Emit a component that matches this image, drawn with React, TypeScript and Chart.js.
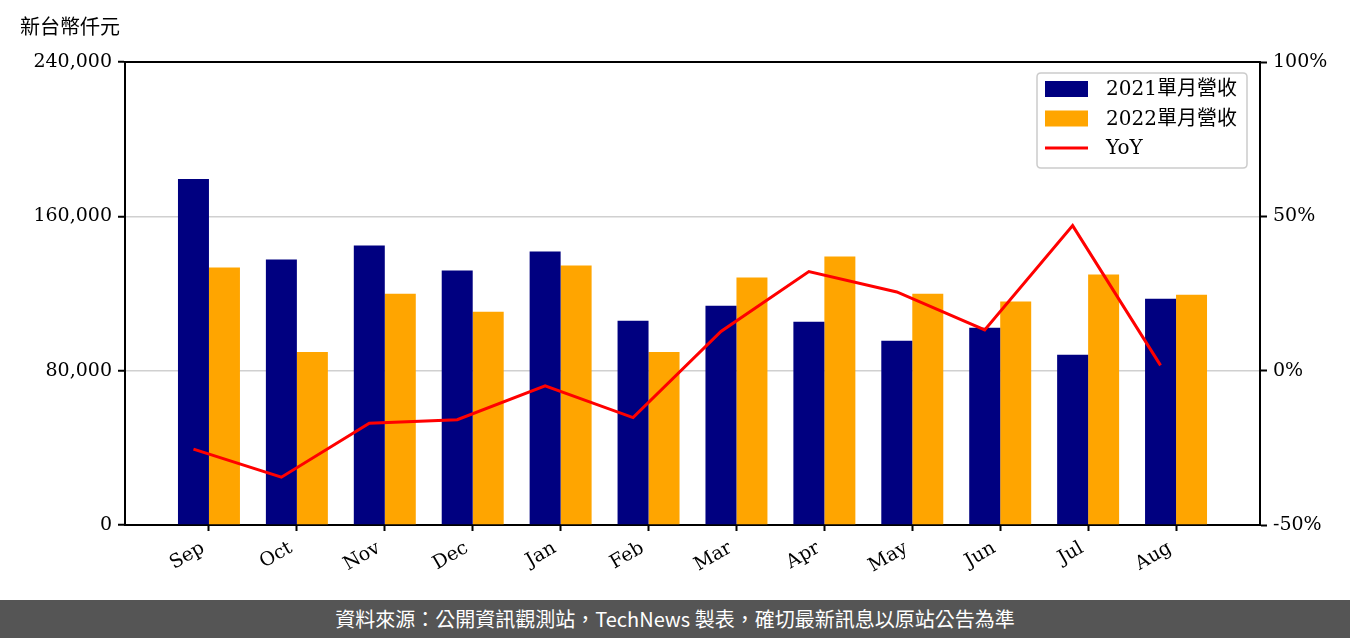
import { useEffect, useRef } from "react";
import { Chart, registerables } from "chart.js";

Chart.register(...registerables);

const months = ["Sep", "Oct", "Nov", "Dec", "Jan", "Feb", "Mar", "Apr", "May", "Jun", "Jul", "Aug"];
const revenue2021 = [179300, 137600, 144900, 131900, 141800, 105900, 113700, 105300, 95500, 102200, 88200, 117300];
const revenue2022 = [133500, 89700, 119900, 110600, 134500, 89700, 128300, 139200, 119900, 115800, 129800, 119400];
const yoyPercent = [-25.4, -34.5, -17.0, -15.9, -4.9, -15.2, 12.7, 32.1, 25.5, 13.2, 47.0, 1.7];
const leftTicks = [0, 80000, 160000, 240000];
const rightTicks = [-50, 0, 50, 100];
const seriesLabels = ["2021單月營收", "2022單月營收", "YoY"];
const unitLabel = "新台幣仟元";
const sourceNote = "資料來源：公開資訊觀測站，TechNews 製表，確切最新訊息以原站公告為準";

const SERIF = '"DejaVu Serif", "Noto Sans CJK TC", serif';
const SANS = '"Noto Sans CJK TC", "Noto Sans", sans-serif';
const CAT_PCT = 0.705;
const LINE_SHIFT = -CAT_PCT / 4;

const framePlugin = {
  id: "frameTop",
  afterDraw(chart: any) {
    const { ctx, chartArea } = chart;
    ctx.save();
    ctx.strokeStyle = "#000";
    ctx.lineWidth = 2;
    ctx.beginPath();
    ctx.moveTo(chartArea.left - 1, chartArea.top);
    ctx.lineTo(chartArea.right + 1, chartArea.top);
    ctx.stroke();
    ctx.restore();
  },
};

const legendPlugin = {
  id: "boxLegend",
  afterDraw(chart: any) {
    const { ctx, chartArea } = chart;
    const order = [1, 2, 0];
    const w = 210;
    const h = 95;
    const x = chartArea.right - 13 - w;
    const y = chartArea.top + 11;
    ctx.save();
    ctx.beginPath();
    const r = 4;
    ctx.moveTo(x + r, y);
    ctx.lineTo(x + w - r, y);
    ctx.quadraticCurveTo(x + w, y, x + w, y + r);
    ctx.lineTo(x + w, y + h - r);
    ctx.quadraticCurveTo(x + w, y + h, x + w - r, y + h);
    ctx.lineTo(x + r, y + h);
    ctx.quadraticCurveTo(x, y + h, x, y + h - r);
    ctx.lineTo(x, y + r);
    ctx.quadraticCurveTo(x, y, x + r, y);
    ctx.closePath();
    ctx.fillStyle = "rgba(255,255,255,0.85)";
    ctx.fill();
    ctx.strokeStyle = "#cccccc";
    ctx.lineWidth = 1.5;
    ctx.stroke();
    ctx.font = `20px ${SERIF}`;
    ctx.textBaseline = "middle";
    ctx.textAlign = "left";
    order.forEach((di, row) => {
      const ds = chart.data.datasets[di];
      const cy = y + 16 + row * 29.5;
      const sx = x + 8;
      if (ds.type === "line") {
        ctx.strokeStyle = ds.borderColor;
        ctx.lineWidth = 3;
        ctx.beginPath();
        ctx.moveTo(sx, cy);
        ctx.lineTo(sx + 43, cy);
        ctx.stroke();
      } else {
        ctx.fillStyle = ds.backgroundColor;
        ctx.fillRect(sx, cy - 8, 43, 16);
      }
      ctx.fillStyle = "#000";
      ctx.fillText(ds.label, sx + 61, cy + 1);
    });
    ctx.restore();
  },
};

export default function App() {
  const canvasRef = useRef<HTMLCanvasElement | null>(null);

  useEffect(() => {
    if (!canvasRef.current) return;
    const chart = new Chart(canvasRef.current, {
      type: "bar",
      data: {
        datasets: [
          {
            type: "line",
            label: seriesLabels[2],
            data: yoyPercent.map((v, i) => ({ x: i + LINE_SHIFT, y: v })),
            borderColor: "#ff0000",
            backgroundColor: "#ff0000",
            borderWidth: 3,
            pointRadius: 0,
            tension: 0,
            yAxisID: "y1",
            xAxisID: "x",
            order: 0,
          } as any,
          {
            type: "bar",
            label: seriesLabels[0],
            data: revenue2021.map((v, i) => ({ x: i, y: v })),
            backgroundColor: "#000080",
            categoryPercentage: CAT_PCT,
            barPercentage: 1,
            yAxisID: "y",
            xAxisID: "x",
            order: 1,
          },
          {
            type: "bar",
            label: seriesLabels[1],
            data: revenue2022.map((v, i) => ({ x: i, y: v })),
            backgroundColor: "#ffa500",
            categoryPercentage: CAT_PCT,
            barPercentage: 1,
            yAxisID: "y",
            xAxisID: "x",
            order: 1,
          },
        ],
      },
      options: {
        responsive: false,
        animation: false,
        layout: { padding: { top: 62, left: 0, right: 0, bottom: 0 } },
        plugins: { legend: { display: false }, tooltip: { enabled: false } },
        scales: {
          x: {
            type: "linear",
            min: -0.955,
            max: 11.955,
            offset: false,
            afterBuildTicks: (s: any) => {
              s.ticks = months.map((_, i) => ({ value: i }));
            },
            afterFit: (s: any) => {
              s.height = 75;
            },
            ticks: {
              callback: (v: any) => months[Math.round(Number(v))] ?? "",
              autoSkip: false,
              minRotation: 30,
              maxRotation: 30,
              color: "#000",
              padding: 6,
              labelOffset: -6,
              font: { family: SERIF, size: 19 },
            },
            grid: { offset: false, drawOnChartArea: false, tickLength: 6, tickColor: "#000", tickWidth: 2 },
            border: { color: "#000", width: 2 },
          } as any,
          y: {
            type: "linear",
            position: "left",
            min: 0,
            max: 240000,
            afterBuildTicks: (s: any) => {
              s.ticks = leftTicks.map((v) => ({ value: v }));
            },
            afterFit: (s: any) => {
              s.width = 125;
            },
            ticks: {
              callback: (v: any) => Number(v).toLocaleString("en-US"),
              color: "#000",
              padding: 6,
              font: { family: SERIF, size: 19 },
            },
            grid: { color: "#d0d0d0", lineWidth: 1.5, tickLength: 7, tickColor: "#000", tickWidth: 2 },
            border: { color: "#000", width: 2 },
          } as any,
          y1: {
            type: "linear",
            position: "right",
            min: -50,
            max: 100,
            afterBuildTicks: (s: any) => {
              s.ticks = rightTicks.map((v) => ({ value: v }));
            },
            afterFit: (s: any) => {
              s.width = 90;
            },
            ticks: {
              callback: (v: any) => `${v}%`,
              color: "#000",
              padding: 6,
              font: { family: SERIF, size: 19 },
            },
            grid: { drawOnChartArea: false, tickLength: 7, tickColor: "#000", tickWidth: 2 },
            border: { color: "#000", width: 2 },
          } as any,
        },
      },
      plugins: [framePlugin, legendPlugin],
    });
    return () => chart.destroy();
  }, []);

  return (
    <div style={{ position: "fixed", left: 0, top: 0, width: 1350, height: 638, background: "#fff", overflow: "hidden" }}>
      <canvas ref={canvasRef} width={1350} height={600} style={{ position: "absolute", left: 0, top: 0, width: 1350, height: 600 }} />
      <div
        style={{
          position: "absolute",
          left: 20,
          top: 15,
          fontFamily: SERIF,
          fontSize: 20,
          lineHeight: "24px",
          color: "#000",
        }}
      >
        {unitLabel}
      </div>
      <div
        style={{
          position: "absolute",
          left: 0,
          top: 600,
          width: 1350,
          height: 38,
          background: "#555555",
          color: "#fff",
          fontFamily: SANS,
          fontSize: 20,
          lineHeight: "38px",
          textAlign: "center",
        }}
      >
        {sourceNote}
      </div>
    </div>
  );
}
